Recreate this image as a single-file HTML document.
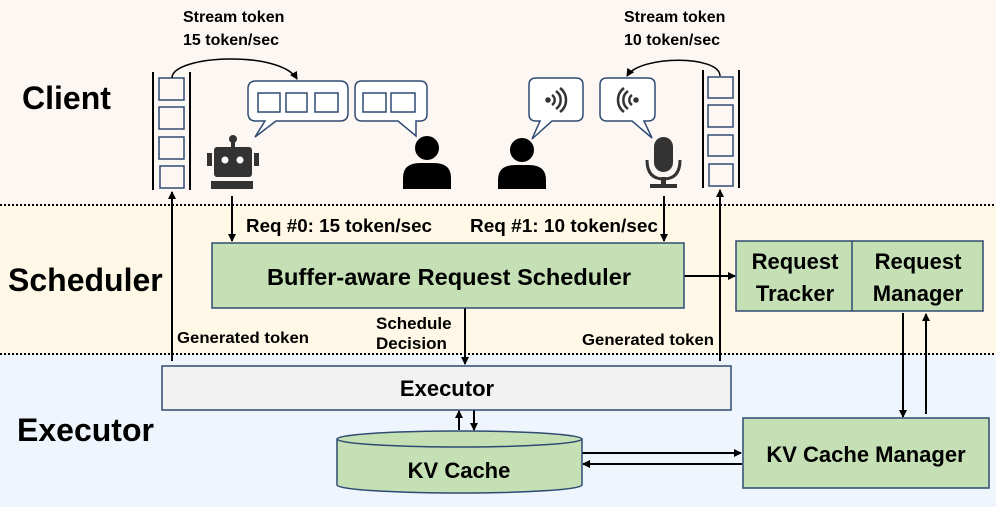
<!DOCTYPE html>
<html><head><meta charset="utf-8"><style>
html,body{margin:0;padding:0;background:#fff}
svg{display:block}
text{font-family:"Liberation Sans",sans-serif;font-weight:bold;fill:#000}
</style></head><body>
<svg width="996" height="507" viewBox="0 0 996 507" xmlns="http://www.w3.org/2000/svg">
<defs>
<marker id="a" markerWidth="8" markerHeight="8" refX="7" refY="4" orient="auto" markerUnits="userSpaceOnUse"><path d="M0,0 L8,4 L0,8 z" fill="#000"/></marker>
</defs>
<rect x="0" y="0" width="996" height="205" fill="#fcf7f3"/>
<rect x="0" y="205" width="996" height="149" fill="#fff8e7"/>
<rect x="0" y="354" width="996" height="153" fill="#eef5fc"/>
<line x1="0" y1="205" x2="996" y2="205" stroke="#000" stroke-width="2" stroke-dasharray="2,2"/>
<line x1="0" y1="354" x2="996" y2="354" stroke="#000" stroke-width="2" stroke-dasharray="2,2"/>

<text x="22" y="109" font-size="32">Client</text>
<text x="8" y="291" font-size="32">Scheduler</text>
<text x="17" y="441" font-size="32">Executor</text>

<text x="183" y="22" font-size="16">Stream token</text>
<text x="183" y="45" font-size="16">15 token/sec</text>
<text x="624" y="22" font-size="16">Stream token</text>
<text x="624" y="45" font-size="16">10 token/sec</text>

<g stroke="#000" stroke-width="2"><line x1="153" y1="72" x2="153" y2="190"/><line x1="190" y1="72" x2="190" y2="190"/>
<line x1="703" y1="70" x2="703" y2="188"/><line x1="739" y1="70" x2="739" y2="188"/></g>
<g fill="none" stroke="#2f4a73" stroke-width="1.5">
<rect x="159" y="78" width="25" height="22"/><rect x="159" y="107" width="25" height="22"/><rect x="159" y="137" width="25" height="22"/><rect x="160" y="166" width="24" height="22"/>
<rect x="708" y="77" width="25" height="21"/><rect x="708" y="105" width="25" height="22"/><rect x="708" y="135" width="25" height="21"/><rect x="709" y="164" width="24" height="22"/>
</g>
<path d="M172,78 C172,55 280,50 297,79" fill="none" stroke="#000" stroke-width="1.5" marker-end="url(#a)"/>
<path d="M720,76 C720,55 640,55 627,76" fill="none" stroke="#000" stroke-width="1.5" marker-end="url(#a)"/>

<g fill="#fff" stroke="#2f4a73" stroke-width="1.5">
<path d="M256,81 H340 Q348,81 348,89 V113 Q348,121 340,121 H276 L255,137 L265,121 H256 Q248,121 248,113 V89 Q248,81 256,81 Z"/>
<path d="M362,81 H420 Q427,81 427,88 V114 Q427,121 420,121 H416 L416,136 L398,121 H362 Q355,121 355,114 V88 Q355,81 362,81 Z"/>
<path d="M536,78 H576 Q583,78 583,85 V114 Q583,121 576,121 H552 L532,139 L540,121 H536 Q529,121 529,114 V85 Q529,78 536,78 Z"/>
<path d="M607,78 H648 Q655,78 655,85 V114 Q655,121 648,121 H644 L652,138 L632,121 H607 Q600,121 600,114 V85 Q600,78 607,78 Z"/>
</g>
<g fill="none" stroke="#2f4a73" stroke-width="1.5">
<rect x="258" y="93" width="22" height="19"/><rect x="286" y="93" width="21" height="19"/><rect x="315" y="93" width="23" height="19"/>
<rect x="363" y="93" width="23" height="19"/><rect x="391" y="93" width="24" height="19"/>
</g>
<g fill="none" stroke="#333" stroke-width="2.5">
<circle cx="548" cy="100" r="1.5" fill="#333"/>
<path d="M552,95 A6,6 0 0 1 552,105"/><path d="M556,91 A11,11 0 0 1 556,109"/><path d="M560,88 A15,15 0 0 1 560,112"/>
<circle cx="636" cy="100" r="1.5" fill="#333"/>
<path d="M632,95 A6,6 0 0 0 632,105"/><path d="M628,91 A11,11 0 0 0 628,109"/><path d="M624,88 A15,15 0 0 0 624,112"/>
</g>
<g fill="#333">
<circle cx="233" cy="139" r="4"/><rect x="231" y="141" width="4" height="6"/>
<rect x="214" y="147" width="38" height="30" rx="3"/>
<rect x="207" y="153" width="5" height="13"/><rect x="254" y="153" width="5" height="13"/>
<rect x="211" y="181" width="42" height="8"/>
</g>
<circle cx="225" cy="160" r="3.5" fill="#fff"/><circle cx="240" cy="160" r="3.5" fill="#fff"/>
<g fill="#000">
<circle cx="427" cy="148" r="12"/><path d="M403,189 V178 Q403,163 420,163 H434 Q451,163 451,178 V189 Z"/>
<circle cx="522" cy="150" r="12"/><path d="M498,189 V180 Q498,165 515,165 H529 Q546,165 546,180 V189 Z"/>
</g>
<g fill="#333"><rect x="654" y="137" width="19" height="35" rx="9.5"/><rect x="661" y="177" width="5" height="8"/><rect x="650" y="184" width="27" height="4"/></g>
<path d="M647,160 Q647,179 663.5,179 Q680,179 680,160" fill="none" stroke="#333" stroke-width="3"/>

<g stroke="#000" stroke-width="2" fill="none" marker-end="url(#a)">
<line x1="172" y1="361" x2="172" y2="192"/>
<line x1="232" y1="196" x2="232" y2="241"/>
<line x1="664" y1="196" x2="664" y2="241"/>
<line x1="720" y1="361" x2="720" y2="190"/>
<line x1="684" y1="276" x2="735" y2="276"/>
<line x1="465" y1="308" x2="465" y2="364"/>
<line x1="459" y1="430" x2="459" y2="411"/>
<line x1="474" y1="410" x2="474" y2="430"/>
<line x1="582" y1="453" x2="741" y2="453"/>
<line x1="742" y1="464" x2="583" y2="464"/>
<line x1="903" y1="313" x2="903" y2="417"/>
<line x1="926" y1="414" x2="926" y2="314"/>
</g>

<text x="246" y="232" font-size="18" textLength="186" lengthAdjust="spacingAndGlyphs">Req #0: 15 token/sec</text>
<text x="470" y="232" font-size="18" textLength="188" lengthAdjust="spacingAndGlyphs">Req #1: 10 token/sec</text>

<rect x="212" y="243" width="472" height="65" fill="#c5e0b4" stroke="#2f4a73" stroke-width="1.5"/>
<text x="449" y="285" font-size="23" text-anchor="middle" textLength="364" lengthAdjust="spacingAndGlyphs">Buffer-aware Request Scheduler</text>

<rect x="736" y="241" width="247" height="70" fill="#c5e0b4" stroke="#2f4a73" stroke-width="1.5"/>
<line x1="852" y1="241" x2="852" y2="311" stroke="#2f4a73" stroke-width="1.5"/>
<text x="795" y="269" font-size="22" text-anchor="middle">Request</text>
<text x="795" y="301" font-size="22" text-anchor="middle">Tracker</text>
<text x="918" y="269" font-size="22" text-anchor="middle">Request</text>
<text x="918" y="301" font-size="22" text-anchor="middle">Manager</text>

<text x="376" y="329" font-size="17">Schedule</text>
<text x="376" y="349" font-size="17">Decision</text>
<text x="177" y="343" font-size="16" textLength="132" lengthAdjust="spacingAndGlyphs">Generated token</text>
<text x="582" y="345" font-size="16" textLength="132" lengthAdjust="spacingAndGlyphs">Generated token</text>

<rect x="162" y="366" width="569" height="44" fill="#f2f2f2" stroke="#2f4a73" stroke-width="1.5"/>
<text x="447" y="396" font-size="22" text-anchor="middle">Executor</text>

<path d="M337,439 V485 A122.5,8 0 0 0 582,485 V439" fill="#c5e0b4" stroke="#2f4a73" stroke-width="1.5"/>
<ellipse cx="459.5" cy="439" rx="122.5" ry="8" fill="#c5e0b4" stroke="#2f4a73" stroke-width="1.5"/>
<text x="459" y="478" font-size="22" text-anchor="middle">KV Cache</text>

<rect x="743" y="418" width="246" height="70" fill="#c5e0b4" stroke="#2f4a73" stroke-width="1.5"/>
<text x="866" y="462" font-size="22" text-anchor="middle">KV Cache Manager</text>
</svg>
</body></html>
